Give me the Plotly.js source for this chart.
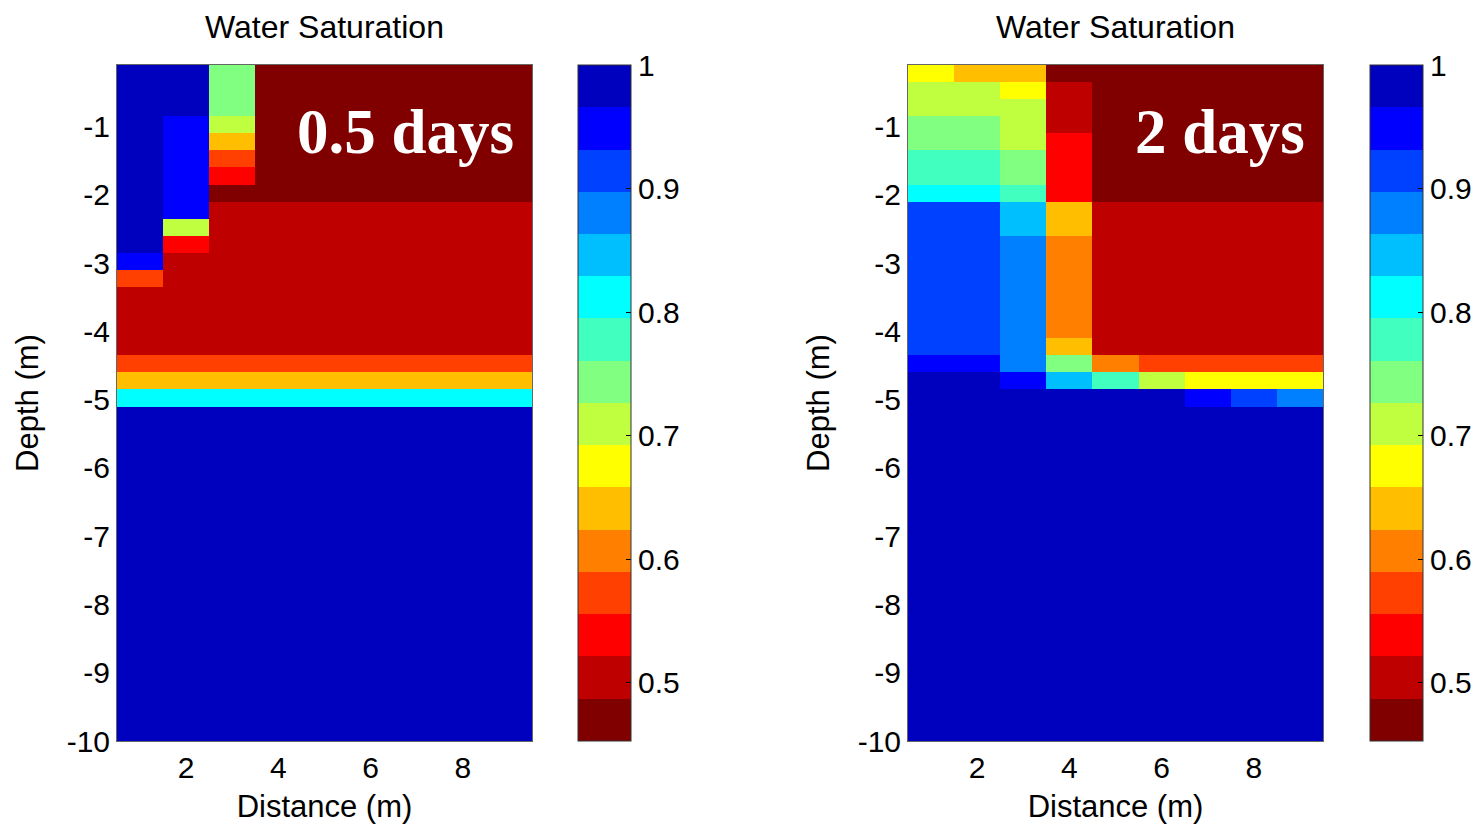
<!DOCTYPE html>
<html>
<head>
<meta charset="utf-8">
<script src="https://cdn.plot.ly/plotly-3.0.1.min.js"></script>
<style>
  html, body { margin: 0; padding: 0; background: #ffffff; }
  #chart { width: 1484px; height: 828px; }
</style>
</head>
<body>
<div id="chart"></div>
<script>
// ---- data ----
const distance = [1, 2, 3, 4, 5, 6, 7, 8, 9];
const depthCenters = [
  -0.225, -0.475, -0.725, -0.975, -1.225, -1.475, -1.725, -1.975,
  -2.225, -2.475, -2.725, -2.975, -3.225, -3.475, -3.725, -3.975,
  -4.225, -4.475, -4.725, -4.975, -5.225, -5.475, -5.725, -5.975,
  -6.225, -6.475, -6.725, -6.975, -7.225, -7.475, -7.725, -7.975,
  -8.225, -8.475, -8.725, -8.975, -9.225, -9.475, -9.725, -9.975
];

// water saturation after 0.5 days (rows = depth from top, columns = distance)
const satHalfDay = [
  [0.985, 0.985, 0.745, 0.47, 0.47, 0.47, 0.47, 0.47, 0.47],
  [0.985, 0.985, 0.745, 0.47, 0.47, 0.47, 0.47, 0.47, 0.47],
  [0.985, 0.985, 0.745, 0.47, 0.47, 0.47, 0.47, 0.47, 0.47],
  [0.985, 0.95, 0.71, 0.47, 0.47, 0.47, 0.47, 0.47, 0.47],
  [0.985, 0.95, 0.64, 0.47, 0.47, 0.47, 0.47, 0.47, 0.47],
  [0.985, 0.95, 0.575, 0.47, 0.47, 0.47, 0.47, 0.47, 0.47],
  [0.985, 0.95, 0.54, 0.47, 0.47, 0.47, 0.47, 0.47, 0.47],
  [0.985, 0.95, 0.47, 0.47, 0.47, 0.47, 0.47, 0.47, 0.47],
  [0.985, 0.95, 0.505, 0.505, 0.505, 0.505, 0.505, 0.505, 0.505],
  [0.985, 0.71, 0.505, 0.505, 0.505, 0.505, 0.505, 0.505, 0.505],
  [0.985, 0.54, 0.505, 0.505, 0.505, 0.505, 0.505, 0.505, 0.505],
  [0.95, 0.505, 0.505, 0.505, 0.505, 0.505, 0.505, 0.505, 0.505],
  [0.575, 0.505, 0.505, 0.505, 0.505, 0.505, 0.505, 0.505, 0.505],
  [0.505, 0.505, 0.505, 0.505, 0.505, 0.505, 0.505, 0.505, 0.505],
  [0.505, 0.505, 0.505, 0.505, 0.505, 0.505, 0.505, 0.505, 0.505],
  [0.505, 0.505, 0.505, 0.505, 0.505, 0.505, 0.505, 0.505, 0.505],
  [0.505, 0.505, 0.505, 0.505, 0.505, 0.505, 0.505, 0.505, 0.505],
  [0.575, 0.575, 0.575, 0.575, 0.575, 0.575, 0.575, 0.575, 0.575],
  [0.64, 0.64, 0.64, 0.64, 0.64, 0.64, 0.64, 0.64, 0.64],
  [0.81, 0.81, 0.81, 0.81, 0.81, 0.81, 0.81, 0.81, 0.81],
  [0.985, 0.985, 0.985, 0.985, 0.985, 0.985, 0.985, 0.985, 0.985],
  [0.985, 0.985, 0.985, 0.985, 0.985, 0.985, 0.985, 0.985, 0.985],
  [0.985, 0.985, 0.985, 0.985, 0.985, 0.985, 0.985, 0.985, 0.985],
  [0.985, 0.985, 0.985, 0.985, 0.985, 0.985, 0.985, 0.985, 0.985],
  [0.985, 0.985, 0.985, 0.985, 0.985, 0.985, 0.985, 0.985, 0.985],
  [0.985, 0.985, 0.985, 0.985, 0.985, 0.985, 0.985, 0.985, 0.985],
  [0.985, 0.985, 0.985, 0.985, 0.985, 0.985, 0.985, 0.985, 0.985],
  [0.985, 0.985, 0.985, 0.985, 0.985, 0.985, 0.985, 0.985, 0.985],
  [0.985, 0.985, 0.985, 0.985, 0.985, 0.985, 0.985, 0.985, 0.985],
  [0.985, 0.985, 0.985, 0.985, 0.985, 0.985, 0.985, 0.985, 0.985],
  [0.985, 0.985, 0.985, 0.985, 0.985, 0.985, 0.985, 0.985, 0.985],
  [0.985, 0.985, 0.985, 0.985, 0.985, 0.985, 0.985, 0.985, 0.985],
  [0.985, 0.985, 0.985, 0.985, 0.985, 0.985, 0.985, 0.985, 0.985],
  [0.985, 0.985, 0.985, 0.985, 0.985, 0.985, 0.985, 0.985, 0.985],
  [0.985, 0.985, 0.985, 0.985, 0.985, 0.985, 0.985, 0.985, 0.985],
  [0.985, 0.985, 0.985, 0.985, 0.985, 0.985, 0.985, 0.985, 0.985],
  [0.985, 0.985, 0.985, 0.985, 0.985, 0.985, 0.985, 0.985, 0.985],
  [0.985, 0.985, 0.985, 0.985, 0.985, 0.985, 0.985, 0.985, 0.985],
  [0.985, 0.985, 0.985, 0.985, 0.985, 0.985, 0.985, 0.985, 0.985],
  [0.985, 0.985, 0.985, 0.985, 0.985, 0.985, 0.985, 0.985, 0.985]
];

// water saturation after 2 days
const satTwoDays = [
  [0.675, 0.64, 0.64, 0.47, 0.47, 0.47, 0.47, 0.47, 0.47],
  [0.71, 0.71, 0.675, 0.505, 0.47, 0.47, 0.47, 0.47, 0.47],
  [0.71, 0.71, 0.71, 0.505, 0.47, 0.47, 0.47, 0.47, 0.47],
  [0.745, 0.745, 0.71, 0.505, 0.47, 0.47, 0.47, 0.47, 0.47],
  [0.745, 0.745, 0.71, 0.54, 0.47, 0.47, 0.47, 0.47, 0.47],
  [0.78, 0.78, 0.745, 0.54, 0.47, 0.47, 0.47, 0.47, 0.47],
  [0.78, 0.78, 0.745, 0.54, 0.47, 0.47, 0.47, 0.47, 0.47],
  [0.81, 0.81, 0.78, 0.54, 0.47, 0.47, 0.47, 0.47, 0.47],
  [0.915, 0.915, 0.845, 0.64, 0.505, 0.505, 0.505, 0.505, 0.505],
  [0.915, 0.915, 0.845, 0.64, 0.505, 0.505, 0.505, 0.505, 0.505],
  [0.915, 0.915, 0.88, 0.61, 0.505, 0.505, 0.505, 0.505, 0.505],
  [0.915, 0.915, 0.88, 0.61, 0.505, 0.505, 0.505, 0.505, 0.505],
  [0.915, 0.915, 0.88, 0.61, 0.505, 0.505, 0.505, 0.505, 0.505],
  [0.915, 0.915, 0.88, 0.61, 0.505, 0.505, 0.505, 0.505, 0.505],
  [0.915, 0.915, 0.88, 0.61, 0.505, 0.505, 0.505, 0.505, 0.505],
  [0.915, 0.915, 0.88, 0.61, 0.505, 0.505, 0.505, 0.505, 0.505],
  [0.915, 0.915, 0.88, 0.64, 0.505, 0.505, 0.505, 0.505, 0.505],
  [0.95, 0.95, 0.88, 0.745, 0.61, 0.575, 0.575, 0.575, 0.575],
  [0.985, 0.985, 0.95, 0.845, 0.78, 0.71, 0.675, 0.675, 0.675],
  [0.985, 0.985, 0.985, 0.985, 0.985, 0.985, 0.95, 0.915, 0.88],
  [0.985, 0.985, 0.985, 0.985, 0.985, 0.985, 0.985, 0.985, 0.985],
  [0.985, 0.985, 0.985, 0.985, 0.985, 0.985, 0.985, 0.985, 0.985],
  [0.985, 0.985, 0.985, 0.985, 0.985, 0.985, 0.985, 0.985, 0.985],
  [0.985, 0.985, 0.985, 0.985, 0.985, 0.985, 0.985, 0.985, 0.985],
  [0.985, 0.985, 0.985, 0.985, 0.985, 0.985, 0.985, 0.985, 0.985],
  [0.985, 0.985, 0.985, 0.985, 0.985, 0.985, 0.985, 0.985, 0.985],
  [0.985, 0.985, 0.985, 0.985, 0.985, 0.985, 0.985, 0.985, 0.985],
  [0.985, 0.985, 0.985, 0.985, 0.985, 0.985, 0.985, 0.985, 0.985],
  [0.985, 0.985, 0.985, 0.985, 0.985, 0.985, 0.985, 0.985, 0.985],
  [0.985, 0.985, 0.985, 0.985, 0.985, 0.985, 0.985, 0.985, 0.985],
  [0.985, 0.985, 0.985, 0.985, 0.985, 0.985, 0.985, 0.985, 0.985],
  [0.985, 0.985, 0.985, 0.985, 0.985, 0.985, 0.985, 0.985, 0.985],
  [0.985, 0.985, 0.985, 0.985, 0.985, 0.985, 0.985, 0.985, 0.985],
  [0.985, 0.985, 0.985, 0.985, 0.985, 0.985, 0.985, 0.985, 0.985],
  [0.985, 0.985, 0.985, 0.985, 0.985, 0.985, 0.985, 0.985, 0.985],
  [0.985, 0.985, 0.985, 0.985, 0.985, 0.985, 0.985, 0.985, 0.985],
  [0.985, 0.985, 0.985, 0.985, 0.985, 0.985, 0.985, 0.985, 0.985],
  [0.985, 0.985, 0.985, 0.985, 0.985, 0.985, 0.985, 0.985, 0.985],
  [0.985, 0.985, 0.985, 0.985, 0.985, 0.985, 0.985, 0.985, 0.985],
  [0.985, 0.985, 0.985, 0.985, 0.985, 0.985, 0.985, 0.985, 0.985]
];

const panelLabels = ["0.5 days", "2 days"];
const panelTitle = "Water Saturation";
const xTickVals = [2, 4, 6, 8];
const xTickText = ["2", "4", "6", "8"];
const yTickVals = [-10, -9, -8, -7, -6, -5, -4, -3, -2, -1];
const yTickText = ["-10", "-9", "-8", "-7", "-6", "-5", "-4", "-3", "-2", "-1"];
const cbTickVals = [0.5, 0.6, 0.7, 0.8, 0.9, 1.0];
const cbTickText = ["0.5", "0.6", "0.7", "0.8", "0.9", "1"];
const satMin = 0.453, satMax = 1.0;

// flipped 16-level jet colormap (low = dark red, high = dark blue)
const jetColors = [
  "rgb(128,0,0)", "rgb(191,0,0)", "rgb(255,0,0)", "rgb(255,64,0)",
  "rgb(255,128,0)", "rgb(255,191,0)", "rgb(255,255,0)", "rgb(191,255,64)",
  "rgb(128,255,128)", "rgb(64,255,191)", "rgb(0,255,255)", "rgb(0,191,255)",
  "rgb(0,128,255)", "rgb(0,64,255)", "rgb(0,0,255)", "rgb(0,0,191)"
];
const colorscale = [];
jetColors.forEach((c, i) => {
  colorscale.push([i / jetColors.length, c]);
  colorscale.push([(i + 1) / jetColors.length, c]);
});

// ---- layout helpers ----
const W = 1484, H = 828;
const FONT = "Liberation Sans, Arial, sans-serif";
const tickFs = 30;
const axTitleFs = 31;
const titleFs = 32;
const yDom = [(H - 741) / H, (H - 65) / H];
const panels = [
  { xDom: [117 / W, 532 / W], cbX: 578 / W, z: satHalfDay, xa: "x", ya: "y" },
  { xDom: [908 / W, 1323 / W], cbX: 1370 / W, z: satTwoDays, xa: "x2", ya: "y2" }
];

function makeTrace(p) {
  return {
    type: "heatmap",
    x: distance, y: depthCenters, z: p.z,
    xaxis: p.xa, yaxis: p.ya,
    zmin: satMin, zmax: satMax, zsmooth: false,
    colorscale: colorscale,
    hoverinfo: "skip",
    colorbar: {
      x: p.cbX, xanchor: "left", xpad: 0,
      y: yDom[1], yanchor: "top", ypad: 0,
      len: yDom[1] - yDom[0], lenmode: "fraction",
      thickness: 53, thicknessmode: "pixels",
      outlinecolor: "#333", outlinewidth: 1,
      tickmode: "array", tickvals: cbTickVals, ticktext: cbTickText,
      ticks: "inside", ticklen: 5, tickcolor: "#000", tickwidth: 1,
      tickfont: { family: FONT, size: tickFs, color: "#000" }
    }
  };
}

function makeXAxis(p) {
  return {
    domain: p.xDom, anchor: p.ya, range: [0.5, 9.5],
    tickmode: "array", tickvals: xTickVals, ticktext: xTickText, ticks: "",
    showline: true, mirror: true, linecolor: "#666", linewidth: 1,
    showgrid: false, zeroline: false, automargin: false,
    tickfont: { family: FONT, size: tickFs, color: "#000" },
    title: { text: "Distance (m)", font: { family: FONT, size: axTitleFs, color: "#000" }, standoff: 12 }
  };
}
function makeYAxis(p) {
  return {
    domain: yDom, anchor: p.xa, range: [-10, -0.1],
    tickmode: "array", tickvals: yTickVals, ticktext: yTickText, ticks: "",
    showline: true, mirror: true, linecolor: "#666", linewidth: 1,
    showgrid: false, zeroline: false, automargin: false,
    tickfont: { family: FONT, size: tickFs, color: "#000" },
    title: { text: "Depth (m)", font: { family: FONT, size: axTitleFs, color: "#000" }, standoff: 18 }
  };
}

const data = panels.map(makeTrace);
const annotations = [];
panels.forEach((p, i) => {
  annotations.push({
    xref: "paper", yref: "paper",
    x: (p.xDom[0] + p.xDom[1]) / 2, y: (H - 27) / H,
    xanchor: "center", yanchor: "middle", showarrow: false,
    text: panelTitle,
    font: { family: FONT, size: titleFs, color: "#000" }
  });
  annotations.push({
    xref: "paper", yref: "paper",
    x: p.xDom[1] - 16 / W, y: (H - 132) / H,
    xanchor: "right", yanchor: "middle", showarrow: false,
    text: "<b>" + panelLabels[i] + "</b>",
    font: { family: "Liberation Serif, Times New Roman, serif", size: 63, color: "#ffffff" }
  });
});

const layout = {
  width: W, height: H,
  margin: { l: 0, r: 0, t: 0, b: 0, pad: 0 },
  paper_bgcolor: "#ffffff", plot_bgcolor: "#ffffff",
  showlegend: false,
  xaxis: makeXAxis(panels[0]), yaxis: makeYAxis(panels[0]),
  xaxis2: makeXAxis(panels[1]), yaxis2: makeYAxis(panels[1]),
  annotations: annotations,
  font: { family: FONT, size: tickFs, color: "#000" }
};

Plotly.newPlot("chart", data, layout, { displayModeBar: false, staticPlot: true });
</script>
</body>
</html>
